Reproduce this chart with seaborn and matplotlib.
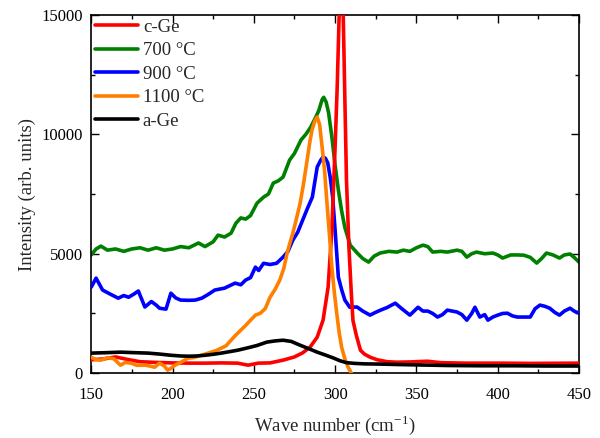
import numpy as np
import pandas as pd
import matplotlib
matplotlib.use("Agg")
import matplotlib.pyplot as plt
from matplotlib.ticker import MultipleLocator
import seaborn as sns

# Raman spectra, values
cge_x = [150, 158, 165, 172, 180, 190, 200, 210, 220, 230, 240, 246.5, 252.7, 260, 268,
         275, 280, 284.6, 289, 292.6, 295.7, 298, 300, 301.3, 302.5, 303.7, 305, 306, 307,
         308.5, 310, 311, 313, 315.6, 318, 321.5, 326, 332, 338, 346, 356.6, 365, 380, 400,
         420, 450]
cge_y = [560, 600, 680, 580, 480, 450, 430, 420, 420, 430, 420, 335, 420, 430, 545,
         680, 850, 1090, 1510, 2220, 3600, 5990, 9470, 12000, 15000, 17000, 15000, 11500, 8090,
         5280, 3300, 2200, 1600, 960, 800, 670, 560, 480, 460, 470, 500, 440, 420, 420,
         410, 420]

g700_x = [150, 153, 156, 160, 165, 170, 175, 180, 185, 190, 195, 200, 205, 210, 216,
          220, 225, 228, 232, 236, 239, 242, 245, 248, 252, 256, 259, 262, 265, 268,
          272, 275, 279, 282, 285, 288, 290, 292, 293, 294.5, 296, 298, 300, 302, 304,
          306, 309.3, 313.6, 317, 320.6, 324, 327.7, 333, 338, 342, 346, 350, 354, 357,
          360, 365, 369, 375, 378, 381, 384, 387, 392, 397, 400, 403, 408, 412, 416,
          420, 424, 427, 430, 434, 438, 441, 444.5, 447, 450]
g700_y = [4950, 5200, 5320, 5150, 5200, 5100, 5200, 5250, 5150, 5250, 5150, 5200, 5300, 5250, 5450,
          5300, 5500, 5780, 5700, 5860, 6280, 6500, 6450, 6600, 7120, 7370, 7500, 7960, 8050, 8210,
          8920, 9200, 9760, 10000, 10300, 10700, 11000, 11450, 11550, 11350, 10900, 9900, 8700, 7670, 6800,
          6100, 5360, 5030, 4800, 4650, 4900, 5030, 5100, 5070, 5150, 5100, 5250, 5360, 5300,
          5070, 5100, 5070, 5150, 5100, 4860, 5000, 5070, 5000, 5030, 4950, 4820, 4950, 4950, 4940,
          4850, 4610, 4800, 5030, 4950, 4820, 4950, 4990, 4850, 4650]

g900_x = [150, 153, 157, 162, 166.6, 170, 173, 176, 179, 183, 187, 190, 192, 196, 199,
          202, 205, 210, 214, 218, 222, 226, 232, 238.5, 242, 245, 248, 251, 253, 256,
          260, 264, 268, 271, 274, 277, 280, 283, 286, 289, 291, 292.5, 294, 295.5, 297,
          298.5, 300, 302, 304, 306, 309, 313.5, 317, 321.5, 325, 328, 332, 337, 341,
          346, 351, 354, 357, 360, 363, 366, 369, 372, 375, 378, 381, 384, 386, 389,
          392, 394, 397, 400, 403, 406, 409, 412, 416, 420, 423, 426, 429, 432, 435,
          438, 441, 444.5, 447, 450]
g900_y = [3600, 3980, 3480, 3300, 3140, 3250, 3180, 3300, 3440, 2770, 3000, 2850, 2720, 2680, 3350,
          3150, 3060, 3050, 3060, 3140, 3300, 3480, 3560, 3770, 3700, 3900, 4000, 4440, 4300, 4600,
          4550, 4600, 4860, 5100, 5570, 5900, 6400, 6900, 7370, 8630, 8900, 9050, 9000, 8800, 8200,
          7370, 5990, 4020, 3500, 3060, 2760, 2770, 2600, 2430, 2550, 2640, 2750, 2930, 2700,
          2430, 2760, 2600, 2600, 2500, 2350, 2450, 2640, 2600, 2560, 2450, 2220, 2500, 2760, 2350,
          2450, 2220, 2350, 2430, 2500, 2510, 2400, 2350, 2350, 2350, 2700, 2850, 2800, 2720, 2550,
          2430, 2600, 2720, 2600, 2510]

g1100_x = [150, 153, 156, 160, 164, 168, 171, 174.6, 178, 183, 186, 189, 192, 195, 197,
           199, 201.6, 205, 209.6, 213, 217.6, 220, 223.8, 227, 230, 233, 236, 239, 242,
           245, 248, 251, 254, 257, 260, 263, 266, 268.5, 270.5, 272, 274, 276, 278.5,
           280.5, 282.8, 284.5, 285.8, 287.5, 289, 290.5, 292, 293.5, 295, 296.5, 298,
           299.5, 301, 302.5, 304, 306, 308, 310, 312]
g1100_y = [670, 560, 545, 650, 600, 335, 450, 420, 330, 335, 300, 250, 420, 300, 125,
           200, 335, 450, 630, 650, 750, 800, 880, 950, 1050, 1150, 1380, 1600, 1800,
           2000, 2220, 2430, 2510, 2700, 3180, 3500, 3900, 4400, 5030, 5400, 5860, 6400, 7120,
           7900, 8920, 9700, 10180, 10550, 10720, 10400, 9470, 8500, 7120, 5800, 4440,
           3400, 2510, 1700, 1090, 600, 250, 0, -300]

age_x = [150, 160, 168, 176, 185, 192, 199, 205, 210, 215, 220, 225, 230, 235, 240,
         245, 248, 252, 258, 263, 268, 273, 278.5, 284, 289, 294, 298.8, 303, 307, 312,
         318, 327.7, 340, 355, 370, 390, 410, 430, 450]
age_y = [840, 860, 880, 860, 840, 800, 750, 720, 710, 720, 750, 790, 840, 900, 960,
         1040, 1090, 1160, 1300, 1350, 1380, 1330, 1170, 1020, 880, 760, 640, 520, 440, 410,
         390, 380, 360, 340, 320, 310, 310, 300, 300]

labels = ["c-Ge", "700 °C", "900 °C", "1100 °C", "a-Ge"]
colors = ["#ff0000", "#008000", "#0000ff", "#ff8000", "#000000"]
series = [(cge_x, cge_y), (g700_x, g700_y), (g900_x, g900_y),
          (g1100_x, g1100_y), (age_x, age_y)]
zorders = [4, 2, 3, 5, 6]

sns.set_style("ticks")
plt.rcParams["font.family"] = ["Liberation Serif", "DejaVu Serif"]

fig = plt.figure(figsize=(6, 4.38), dpi=100)
ax = fig.add_axes([0.152, 0.148, 0.813, 0.818])

for (xs, ys), lab, col, z in zip(series, labels, colors, zorders):
    df = pd.DataFrame({"wn": xs, "I": ys})
    sns.lineplot(data=df, x="wn", y="I", color=col, label=lab, lw=2.6,
                 estimator=None, ax=ax, zorder=z)

ax.set_xlim(150, 450)
ax.set_ylim(0, 15000)
ax.xaxis.set_major_locator(MultipleLocator(50))
ax.xaxis.set_minor_locator(MultipleLocator(25))
ax.yaxis.set_major_locator(MultipleLocator(5000))
ax.yaxis.set_minor_locator(MultipleLocator(2500))
ax.tick_params(which="both", direction="in", top=True, right=True,
               labelsize=12, width=1, colors="black")
ax.tick_params(which="major", length=6)
ax.tick_params(which="minor", length=3)
ax.tick_params(axis="x", which="major", pad=10)
ax.tick_params(axis="y", which="major", pad=6)
for sp in ax.spines.values():
    sp.set_color("black")
    sp.set_linewidth(1.2)

# superscript built from a plain hyphen, as in the reference
ax.set_xlabel("Wave number (cm$^{\\mathregular{-1}}$)", fontsize=13.5, labelpad=7)
ax.set_ylabel("Intensity (arb. units)", fontsize=13.5, labelpad=4)

ax.legend(loc="upper left", bbox_to_anchor=(0, 1), frameon=False, fontsize=13.5,
          handlelength=2.3, handletextpad=0.25, labelspacing=0.34,
          borderpad=0.2, borderaxespad=0)

fig.savefig("out.png", dpi=100)
